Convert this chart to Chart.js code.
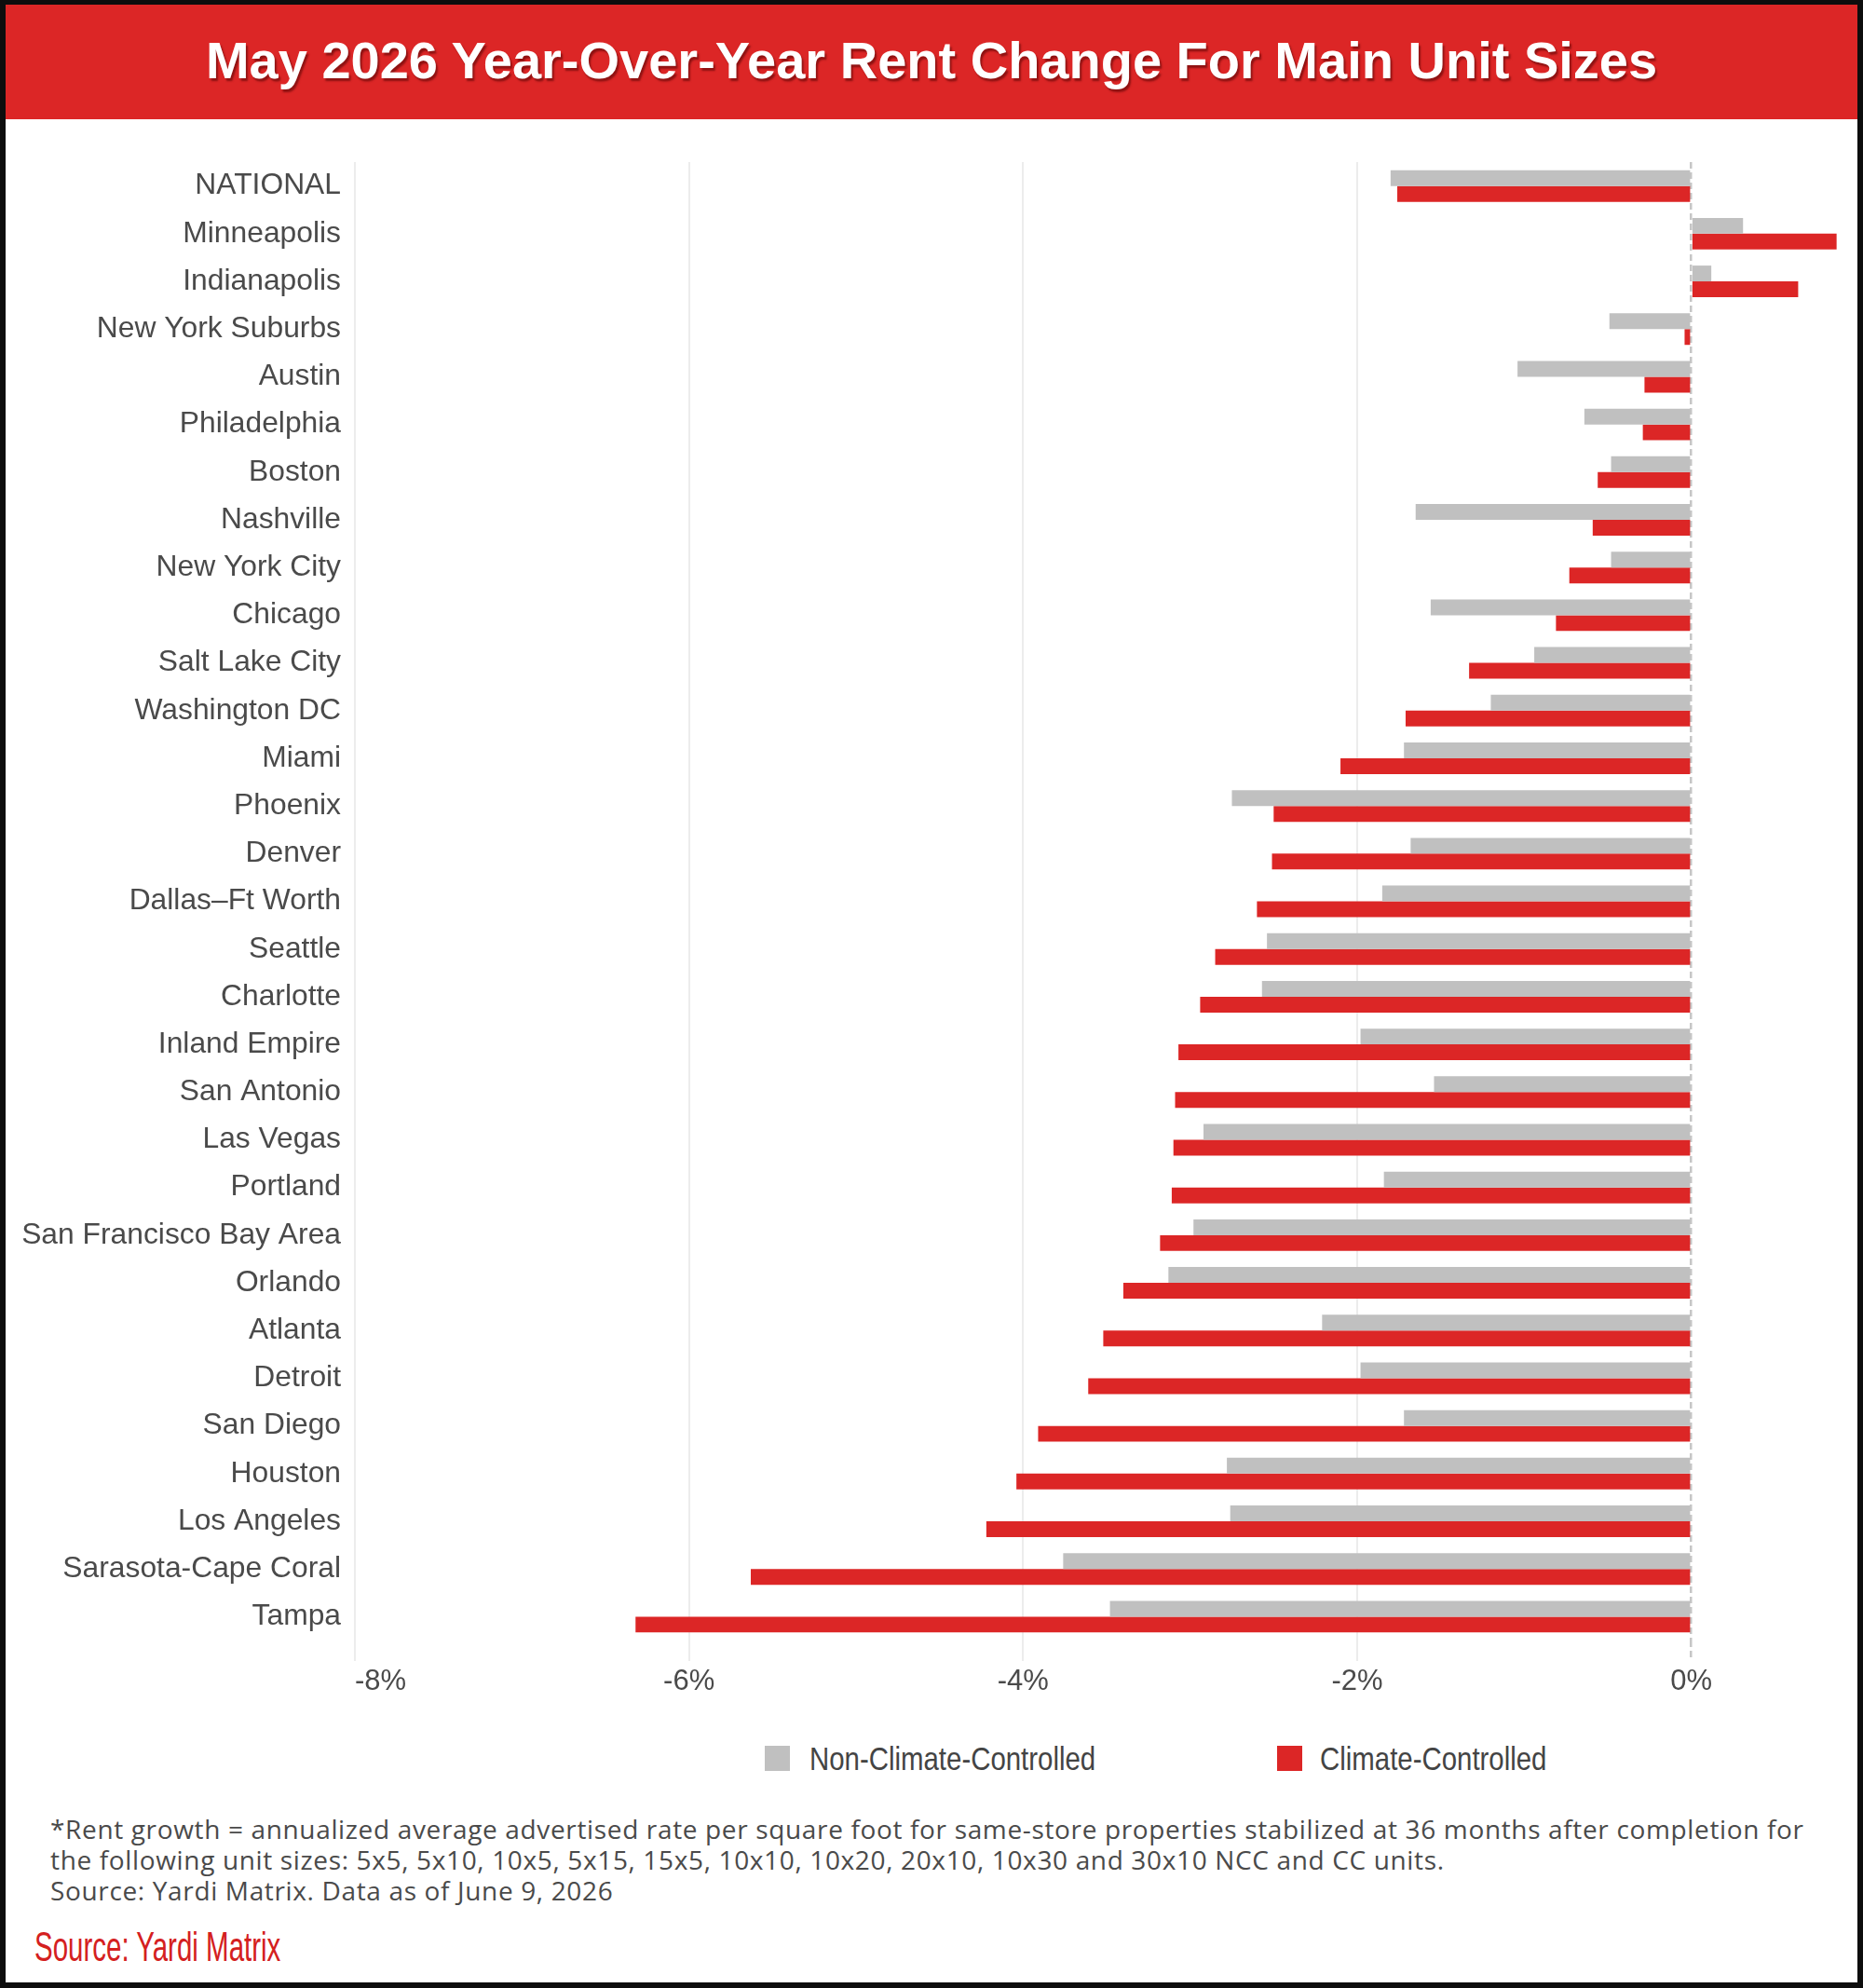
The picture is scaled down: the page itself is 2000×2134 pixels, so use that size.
<!DOCTYPE html>
<html>
<head>
<meta charset="utf-8">
<script src="https://cdn.jsdelivr.net/npm/chart.js@4.4.1/dist/chart.umd.min.js"></script>
<style>
  html, body { margin: 0; padding: 0; background: #fff; }
  body { width: 2000px; height: 2134px; position: relative; overflow: hidden; }
  #frame { position: absolute; left: 0; top: 0; width: 2000px; height: 2134px; box-sizing: border-box;
           border: 6px solid #0d0d0d; border-top-width: 5px; pointer-events: none; z-index: 5; }
  #title { position: absolute; left: 6px; top: 5px; width: 1988px; height: 123px; background: #dc2626;
           color: #fff; font: bold 56px "Liberation Sans", Arial, sans-serif; text-align: center;
           line-height: 120px; text-shadow: 2px 3px 2px rgba(110, 10, 10, 0.7); }
  #wrap { position: absolute; left: 6px; top: 140px; }
  #legend { position: absolute; top: 1870px; left: 0; width: 2000px; height: 36px;
            font: 35px "Liberation Sans", Arial, sans-serif; color: #444; }
  .item { position: absolute; top: 0; white-space: nowrap; line-height: 36px;
          transform: scaleX(0.84); transform-origin: left center; }
  .box { position: absolute; top: 4px; width: 27px; height: 27px; }
  #notes { position: absolute; left: 54px; top: 1947px; font: 28px "Open Sans", sans-serif; color: #4a4a4a;
           letter-spacing: 0.65px; line-height: 33px; white-space: nowrap; }
  #source { position: absolute; left: 37px; top: 2065px; font: 44px "Liberation Sans", Arial, sans-serif;
            color: #d42020; transform: scaleX(0.67); transform-origin: left top; white-space: nowrap; }
</style>
</head>
<body>
<div id="frame"></div>
<div id="title">May 2026 Year-Over-Year Rent Change For Main Unit Sizes</div>
<div id="wrap"><canvas id="rentChart" width="1988" height="1700"></canvas></div>
<div id="legend"></div>
<div id="notes">*Rent growth = annualized average advertised rate per square foot for same-store properties stabilized at 36 months after completion for<br>the following unit sizes: 5x5, 5x10, 10x5, 5x15, 15x5, 10x10, 10x20, 20x10, 10x30 and 30x10 NCC and CC units.<br>Source: Yardi Matrix. Data as of June 9, 2026</div>
<div id="source">Source: Yardi Matrix</div>
<script>
const markets = [
  'NATIONAL', 'Minneapolis', 'Indianapolis', 'New York Suburbs', 'Austin', 'Philadelphia',
  'Boston', 'Nashville', 'New York City', 'Chicago', 'Salt Lake City', 'Washington DC',
  'Miami', 'Phoenix', 'Denver', 'Dallas\u2013Ft Worth', 'Seattle', 'Charlotte',
  'Inland Empire', 'San Antonio', 'Las Vegas', 'Portland', 'San Francisco Bay Area',
  'Orlando', 'Atlanta', 'Detroit', 'San Diego', 'Houston', 'Los Angeles',
  'Sarasota-Cape Coral', 'Tampa'
];
// non-climate-controlled (grey) yoy %
const nonClimate = [
  -1.80, 0.31, 0.12, -0.49, -1.04, -0.64,
  -0.48, -1.65, -0.48, -1.56, -0.94, -1.20,
  -1.72, -2.75, -1.68, -1.85, -2.54, -2.57,
  -1.98, -1.54, -2.92, -1.84, -2.98,
  -3.13, -2.21, -1.98, -1.72, -2.78, -2.76,
  -3.76, -3.48
];
// climate-controlled (red) yoy %
const climate = [
  -1.76, 0.87, 0.64, -0.04, -0.28, -0.29,
  -0.56, -0.59, -0.73, -0.81, -1.33, -1.71,
  -2.10, -2.50, -2.51, -2.60, -2.85, -2.94,
  -3.07, -3.09, -3.10, -3.11, -3.18,
  -3.40, -3.52, -3.61, -3.91, -4.04, -4.22,
  -5.63, -6.32
];
const xTicks = [-8, -6, -4, -2, 0];
const xMax = 0.95;

const isZero = c => c.tick && c.tick.value === 0;
const isEdge = c => c.tick && c.tick.value === xMax;
const gridColor = c => isEdge(c) ? 'rgba(0,0,0,0)' : isZero(c) ? '#c6c6c6' : '#ececec';
const labelFont = { family: 'Liberation Sans', size: 31.8 };

const chart = new Chart(document.getElementById('rentChart'), {
  type: 'bar',
  data: {
    labels: markets,
    datasets: [
      { label: 'Non-Climate-Controlled', data: nonClimate, backgroundColor: '#c0c0c0',
        barPercentage: 1, categoryPercentage: 0.663 },
      { label: 'Climate-Controlled', data: climate, backgroundColor: '#dc2626',
        barPercentage: 1, categoryPercentage: 0.663 }
    ]
  },
  options: {
    indexAxis: 'y',
    responsive: false,
    animation: false,
    devicePixelRatio: 1,
    layout: { padding: { top: 28, right: 8, left: 0, bottom: 0 } },
    plugins: { legend: { display: false }, tooltip: { enabled: false } },
    scales: {
      x: {
        min: -8,
        max: xMax,
        // real ticks plus an unlabeled edge tick so only the first label is inner-aligned
        afterBuildTicks: axis => { axis.ticks = xTicks.concat([xMax]).map(v => ({ value: v })); },
        afterFit: axis => { axis.height = 79; },
        ticks: {
          callback: v => v === xMax ? '' : v + '%',
          font: { family: 'Liberation Sans', size: 31 }, color: '#4a4a4a',
          padding: 4, maxRotation: 0, autoSkip: false, align: 'inner'
        },
        grid: {
          color: gridColor,
          tickColor: gridColor,
          lineWidth: c => isZero(c) ? 2.5 : 2,
          tickLength: 22,
          tickBorderDash: c => isZero(c) ? [7, 4] : []
        },
        border: { display: false, dash: c => isZero(c) ? [7, 4] : [] }
      },
      y: {
        afterFit: axis => { axis.width = 375; },
        ticks: { font: labelFont, color: '#4a4a4a', padding: 15, autoSkip: false },
        grid: { display: false, drawTicks: false },
        border: { display: false }
      }
    }
  }
});

// legend built from the chart's datasets
const legendPos = [{ box: 821, text: 869 }, { box: 1371, text: 1417 }];
const legend = document.getElementById('legend');
chart.data.datasets.forEach((ds, i) => {
  const box = document.createElement('div');
  box.className = 'box';
  box.style.left = legendPos[i].box + 'px';
  box.style.background = ds.backgroundColor;
  legend.appendChild(box);
  const t = document.createElement('div');
  t.className = 'item';
  t.style.left = legendPos[i].text + 'px';
  t.textContent = ds.label;
  legend.appendChild(t);
});
</script>
</body>
</html>
